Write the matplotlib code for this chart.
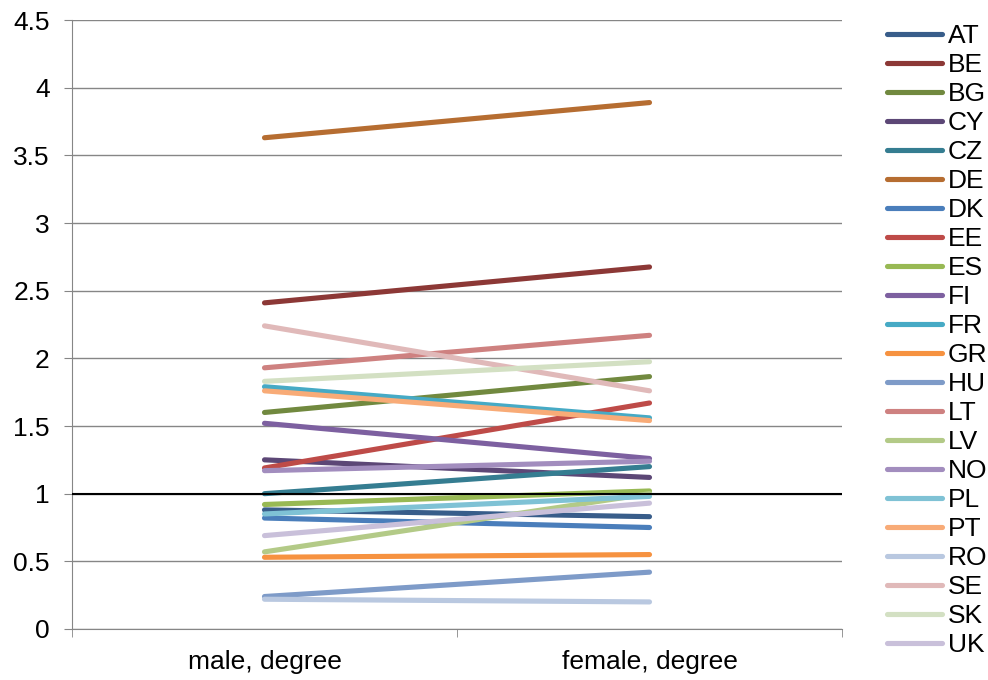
import matplotlib.pyplot as plt

plt.rcParams['font.family'] = ['Liberation Sans', 'DejaVu Sans']

categories = ['male, degree', 'female, degree']

countries = ['AT', 'BE', 'BG', 'CY', 'CZ', 'DE', 'DK', 'EE', 'ES', 'FI', 'FR',
             'GR', 'HU', 'LT', 'LV', 'NO', 'PL', 'PT', 'RO', 'SE', 'SK', 'UK']

male = [0.88, 2.41, 1.60, 1.25, 1.00, 3.63, 0.82, 1.19, 0.92, 1.52, 1.79,
        0.53, 0.24, 1.93, 0.57, 1.17, 0.85, 1.76, 0.22, 2.24, 1.83, 0.69]

female = [0.83, 2.675, 1.865, 1.12, 1.20, 3.89, 0.75, 1.67, 1.02, 1.26, 1.56,
          0.55, 0.42, 2.17, 1.00, 1.24, 0.98, 1.54, 0.20, 1.76, 1.975, 0.93]

colors = ['#385D8A', '#8C3836', '#71893F', '#5C4776', '#357D91', '#B66D31',
          '#4A7EBB', '#BE4B48', '#98B954', '#7D60A0', '#46AAC5', '#F69240',
          '#7E9BC8', '#CE8180', '#B3CA87', '#A28DBE', '#7FC2D5', '#F8AB77',
          '#B9C8E0', '#E0B9B9', '#D3E0C3', '#C9C0DA']

fig = plt.figure(figsize=(9.88, 6.8), dpi=100)
ax = fig.add_axes([72 / 988, 1 - 629 / 680, 770 / 988, 609 / 680])

xs = [0, 1]
for name, m, f, c in zip(countries, male, female, colors):
    ax.plot(xs, [m, f], color=c, lw=3.7, solid_capstyle='round', label=name, zorder=3)

ax.axhline(1, color='black', lw=1.5, zorder=4)

ax.set_xlim(-0.5, 1.5)
ax.set_ylim(0, 4.5)
ax.set_yticks([0, 0.5, 1, 1.5, 2, 2.5, 3, 3.5, 4, 4.5])
ax.set_yticklabels(['0', '0.5', '1', '1.5', '2', '2.5', '3', '3.5', '4', '4.5'])
ax.set_xticks(xs)
ax.set_xticklabels(categories)
ax.set_xticks([-0.5, 0.5, 1.5], minor=True)
ax.tick_params(axis='x', which='major', length=0, labelsize=19, pad=15)
ax.tick_params(axis='x', which='minor', length=6, color='#868686')
ax.tick_params(axis='y', length=6, color='#868686', labelsize=19, pad=10)
ax.yaxis.grid(True, color='#868686', lw=1)
ax.set_axisbelow(True)
for s in ['top', 'right']:
    ax.spines[s].set_visible(False)
for s in ['left', 'bottom']:
    ax.spines[s].set_color('#868686')

fig.legend(loc='upper left', bbox_to_anchor=(887 / 988, 1 - 24 / 680),
           frameon=False, fontsize=19, handlelength=2.1, handletextpad=0.2,
           labelspacing=0.19, borderaxespad=0, borderpad=0)

fig.savefig('out.png', dpi=100)
